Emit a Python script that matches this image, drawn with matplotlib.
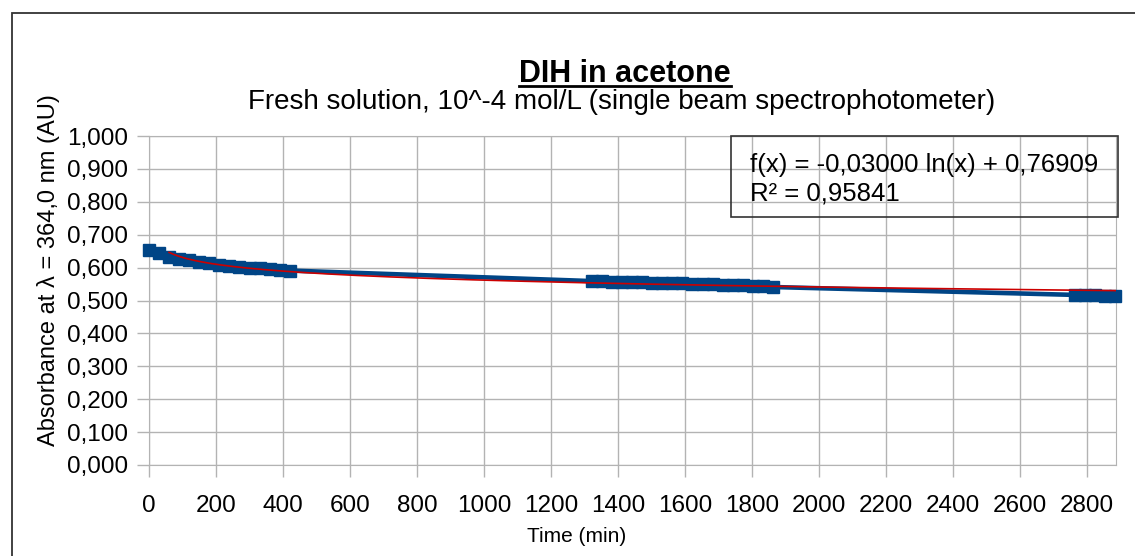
"""Absorbance of DIH in acetone over time, with log trend line."""

from matplotlib import pyplot
from matplotlib.lines import Line2D
from matplotlib.patches import Rectangle
import numpy

# Measured absorbance (AU) at 364.0 nm versus time (min).
time_1 = [0, 30, 60, 90, 120, 150, 180, 210, 240, 270, 300, 330, 360, 390, 420]
abs_1 = [0.653, 0.643, 0.633, 0.627, 0.622, 0.617, 0.613, 0.609,
         0.606, 0.603, 0.600, 0.598, 0.596, 0.593, 0.591]
time_2 = [1322, 1352, 1382, 1412, 1442, 1472, 1502, 1532, 1562, 1592,
          1622, 1652, 1682, 1712, 1742, 1772, 1802, 1832, 1862]
abs_2 = [0.559, 0.558, 0.557, 0.557, 0.556, 0.555, 0.554, 0.553, 0.553,
         0.552, 0.551, 0.550, 0.549, 0.548, 0.547, 0.546, 0.545, 0.543,
         0.541]
time_3 = [2764, 2794, 2824, 2854, 2884]
abs_3 = [0.517, 0.516, 0.516, 0.515, 0.515]

# Logarithmic trend line shown on the chart: f(x) = a ln(x) + b
trend_a = -0.03000
trend_b = 0.76909
trend_r2 = 0.95841

t = numpy.array(time_1 + time_2 + time_3, dtype=float)
a = numpy.array(abs_1 + abs_2 + abs_3)

blue = '#004586'
grid = '#b3b3b3'

pyplot.rc('font', family=['Liberation Sans', 'DejaVu Sans'])
fig = pyplot.figure(figsize=(11.35, 5.56), dpi=100)
ax = fig.add_axes((149 / 1135, 1 - 465 / 556, 967 / 1135, 329 / 556))

ax.grid(color=grid, linewidth=1.0)
ax.set_axisbelow(True)
for spine in ax.spines.values():
    spine.set_color(grid)
ax.tick_params(colors=grid, labelcolor='black', length=8.6, width=1.0,
               labelsize=17.5)
ax.tick_params(axis='x', pad=13)
ax.tick_params(axis='y', pad=6.5)

ax.plot(t, a, color=blue, linewidth=3.3, marker='s', markersize=8.6,
        clip_on=False, zorder=3)
tt = numpy.linspace(time_1[2], time_3[-1], 400)
ax.plot(tt, trend_a * numpy.log(tt) + trend_b, color='#cc0000',
        linewidth=1.2, zorder=4)

ax.set_xlim(0, 2886)
ax.set_ylim(0.0, 1.0)
ax.set_xticks(numpy.arange(0, 2801, 200))
ax.set_yticks(numpy.arange(0.0, 1.001, 0.1))
ax.set_yticklabels([f'{v:.3f}'.replace('.', ',') for v in ax.get_yticks()])
ax.set_xlabel('Time (min)', fontsize=15)
ax.xaxis.set_label_coords((577 - 149) / 967, -(527 - 465) / 329)
ax.set_ylabel('Absorbance at λ = 364,0 nm (AU)', fontsize=17)
ax.yaxis.set_label_coords(-(149 - 60) / 967, (465 - 270) / 329)

# Equation box.
ax.add_patch(Rectangle((731 / 1135, 1 - 217 / 556), 387 / 1135, 81 / 556,
                       transform=fig.transFigure, fill=False,
                       edgecolor='#333333', linewidth=1.2, zorder=5,
                       clip_on=False))
fig.text(750 / 1135, 1 - 172 / 556,
         f'f(x) = {trend_a:.5f} ln(x) + {trend_b:.5f}'.replace('.', ','),
         fontsize=18.5, va='baseline')
fig.text(750 / 1135, 1 - 201 / 556,
         f'R² = {trend_r2:.5f}'.replace('.', ','), fontsize=18.5,
         va='baseline')

# Titles.
title = fig.text(625 / 1135, 1 - 82 / 556, 'DIH in acetone', fontsize=22,
                 fontweight='bold', ha='center', va='baseline')
fig.text(622 / 1135, 1 - 109 / 556,
         'Fresh solution, 10^-4 mol/L (single beam spectrophotometer)',
         fontsize=20, ha='center', va='baseline')

# Underline the title.
fig.canvas.draw()
bb = title.get_window_extent().transformed(fig.transFigure.inverted())
yl = 1 - 86 / 556
fig.add_artist(Line2D([bb.x0, bb.x1], [yl, yl], color='black', linewidth=2.0))

# Outer chart border (left and top edges visible).
fig.add_artist(Rectangle((12 / 1135, -0.1), 1.2, 1.1 - 13 / 556,
                         transform=fig.transFigure, fill=False,
                         edgecolor='#333333', linewidth=1.3))

fig.savefig('out.png', dpi=100)
